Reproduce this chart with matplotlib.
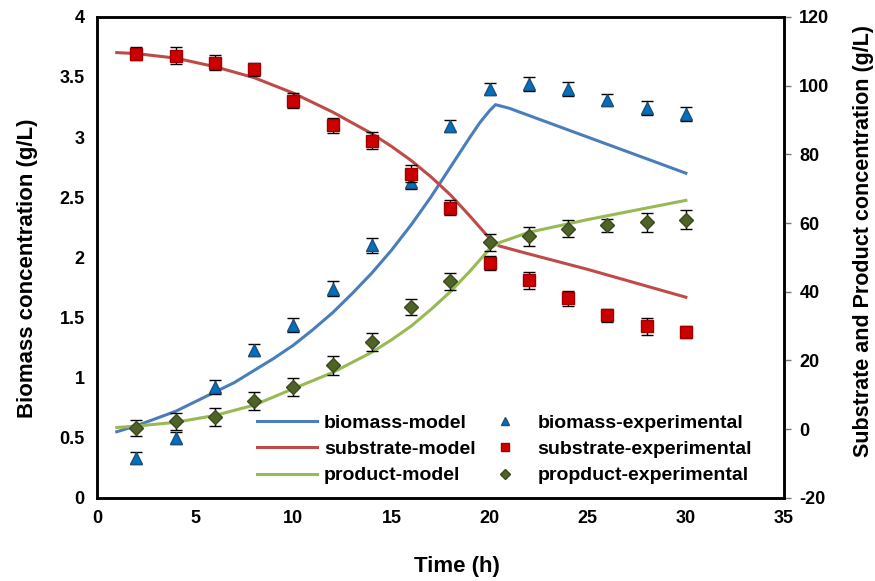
import matplotlib
matplotlib.use("Agg")
from matplotlib import pyplot as plt

# experimental sampling times (h)
t_exp = [2, 4, 6, 8, 10, 12, 14, 16, 18, 20, 22, 24, 26, 28, 30]
biomass_exp = [0.33, 0.50, 0.92, 1.23, 1.44, 1.74, 2.10, 2.63, 3.09,
               3.40, 3.44, 3.40, 3.31, 3.24, 3.19]
biomass_err = [0.05, 0.05, 0.06, 0.05, 0.06, 0.06, 0.06, 0.06, 0.05,
               0.05, 0.06, 0.06, 0.05, 0.06, 0.06]
substrate_exp = [109.3, 108.7, 106.7, 104.7, 95.6, 88.4, 84.0, 74.4, 64.5,
                 48.3, 43.3, 38.1, 33.1, 29.9, 28.2]
substrate_err = [1.8, 2.5, 2.2, 2.0, 2.2, 2.2, 2.4, 2.4, 2.3,
                 2.0, 2.5, 2.2, 1.8, 2.4, 1.8]
product_exp = [0.3, 2.3, 3.5, 8.1, 12.2, 18.6, 25.3, 35.5, 43.0,
               54.4, 56.1, 58.4, 59.3, 60.2, 61.0]
product_err = [2.4, 2.4, 2.6, 2.6, 2.6, 2.8, 2.6, 2.4, 2.6,
               2.4, 2.8, 2.4, 2.0, 2.8, 2.8]

# model curves
t_bm = [1, 2, 3, 4, 5, 6, 7, 8, 9, 10, 11, 12, 13, 14, 15, 16, 17, 18,
        19, 19.5, 20, 20.3, 21, 22, 23, 24, 25, 26, 27, 28, 29, 30]
biomass_model = [0.55, 0.60, 0.66, 0.72, 0.80, 0.88, 0.96, 1.06, 1.16, 1.27,
                 1.40, 1.54, 1.70, 1.87, 2.06, 2.27, 2.50, 2.75, 3.00, 3.12,
                 3.22, 3.27, 3.24, 3.18, 3.12, 3.06, 3.00, 2.94, 2.88, 2.82,
                 2.76, 2.70]
t_sp = [1, 2, 4, 6, 8, 10, 12, 14, 15, 16, 17, 18, 19, 20, 20.5, 22, 25, 30]
substrate_model = [109.6, 109.3, 108.0, 105.5, 102.3, 97.8, 92.3, 86.0, 82.3,
                   78.2, 73.5, 68.2, 62.0, 55.5, 53.3, 51.0, 46.5, 38.4]
product_model = [0.5, 0.9, 2.0, 4.0, 7.0, 11.8, 16.5, 22.4, 26.0,
                 30.0, 34.8, 40.0, 46.0, 52.5, 54.3, 57.3, 61.0, 66.6]

plt.rcParams['font.family'] = ['Liberation Sans', 'DejaVu Sans']
plt.rcParams['font.weight'] = 'bold'
plt.rcParams['axes.unicode_minus'] = False

fig = plt.figure(figsize=(8.75, 5.81), dpi=100)
ax = fig.add_axes([0.111, 0.143, 0.785, 0.828])
ax2 = ax.twinx()

l1, = ax.plot(t_bm, biomass_model, color='#4A7EBB', lw=2.2,
              label='biomass-model')
l2, = ax2.plot(t_sp, substrate_model, color='#BE4B48', lw=2.2,
               label='substrate-model')
l3, = ax2.plot(t_sp, product_model, color='#98B954', lw=2.2,
               label='product-model')

ax.errorbar(t_exp, biomass_exp, yerr=biomass_err, fmt='none', ecolor='black',
            elinewidth=1, capsize=4, capthick=1)
p1, = ax.plot(t_exp, biomass_exp, '^', color='#0070C0', mec='#1F4E79',
              ms=9, ls='none', label='biomass-experimental')
ax2.errorbar(t_exp, substrate_exp, yerr=substrate_err, fmt='none',
             ecolor='black', elinewidth=1, capsize=4, capthick=1)
p2, = ax2.plot(t_exp, substrate_exp, 's', color='#CC0000', mec='#A00000',
               ms=8, ls='none', label='substrate-experimental')
ax2.errorbar(t_exp, product_exp, yerr=product_err, fmt='none',
             ecolor='black', elinewidth=1, capsize=4, capthick=1)
p3, = ax2.plot(t_exp, product_exp, 'D', color='#4F6228', mec='#3B4A1E',
               ms=7, ls='none', label='propduct-experimental')

ax.set_xlim(0, 35)
ax.set_ylim(0, 4)
ax2.set_ylim(-20, 120)
ax.set_xticks(range(0, 36, 5))
ax.set_yticks([0, 0.5, 1, 1.5, 2, 2.5, 3, 3.5, 4])
ax.set_yticklabels(['0', '0.5', '1', '1.5', '2', '2.5', '3', '3.5', '4'])
ax2.set_yticks(range(-20, 121, 20))

ax.tick_params(labelsize=13, length=0, pad=9)
ax2.tick_params(labelsize=13, length=5, width=1, direction='out',
                color='#777777', pad=6)
for a in (ax, ax2):
    for s in a.spines.values():
        s.set_linewidth(1.8)

ax.set_xlabel('Time (h)', fontsize=16, fontweight='bold')
ax.xaxis.set_label_coords(0.524, -0.12)
ax.set_ylabel('Biomass concentration (g/L)', fontsize=16, fontweight='bold')
ax.yaxis.set_label_coords(-0.086, 0.478)
ax2.set_ylabel('Substrate and Product concentration (g/L)', fontsize=15.5,
               fontweight='bold')
ax2.yaxis.set_label_coords(1.10, 0.535)

leg1 = ax2.legend(handles=[l1, l2, l3], loc='upper left',
                  bbox_to_anchor=(257 / 875, 1 - 414 / 581),
                  bbox_transform=fig.transFigure, frameon=False,
                  prop={'weight': 'bold', 'size': 14}, handlelength=3.1,
                  handletextpad=0.35, labelspacing=0.45, borderpad=0,
                  borderaxespad=0)
ax2.add_artist(leg1)
ax2.legend(handles=[p1, p2, p3], loc='upper left',
           bbox_to_anchor=(495 / 875, 1 - 414 / 581),
           bbox_transform=fig.transFigure, frameon=False,
           prop={'weight': 'bold', 'size': 14}, handlelength=1.0,
           handletextpad=1.2, labelspacing=0.45, borderpad=0,
           borderaxespad=0, markerscale=0.7)

fig.savefig('out.png', dpi=100)
